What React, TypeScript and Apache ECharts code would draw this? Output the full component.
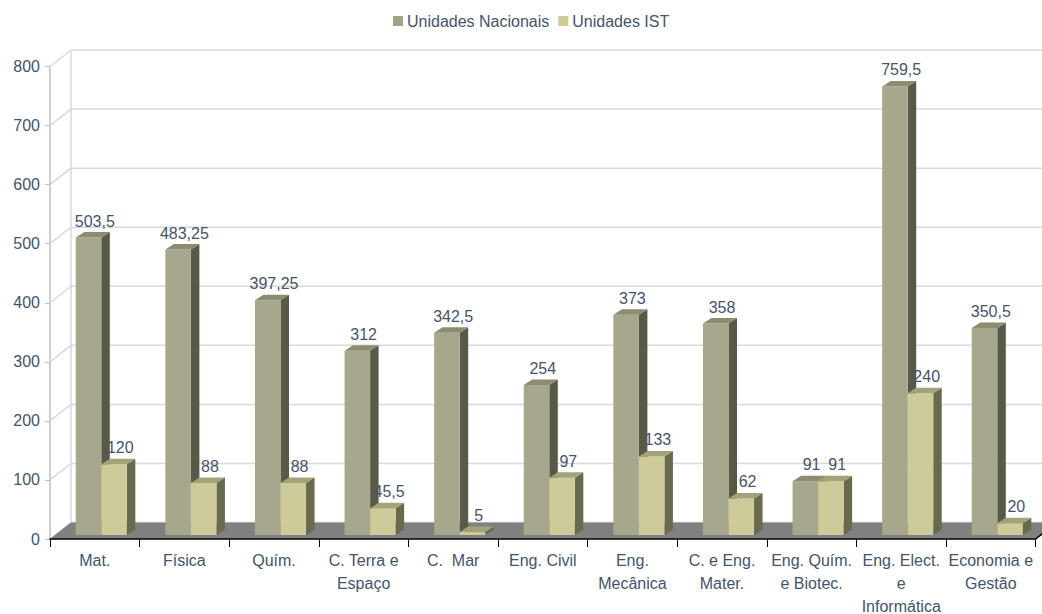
import React, { useEffect, useRef } from "react";
import * as echarts from "echarts";

// Course areas (x axis) and the two unit counts per area
const CATEGORIES = [
  "Mat.",
  "Física",
  "Quím.",
  "C. Terra e\nEspaço",
  "C.  Mar",
  "Eng. Civil",
  "Eng.\nMecânica",
  "C. e Eng.\nMater.",
  "Eng. Quím.\ne Biotec.",
  "Eng. Elect.\ne\nInformática",
  "Economia e\nGestão",
];
const NACIONAIS = [503.5, 483.25, 397.25, 312, 342.5, 254, 373, 358, 91, 759.5, 350.5];
const IST = [120, 88, 88, 45.5, 5, 97, 133, 62, 91, 240, 20];
const Y_TICKS = [0, 100, 200, 300, 400, 500, 600, 700, 800];
const SERIES_NAMES = ["Unidades Nacionais", "Unidades IST"];

const FONT = "'Liberation Sans', Arial, sans-serif";
const TEXT_COLOR = "#44546A";

// 3D look: offset of the back wall and of the bars' own depth
const WALL_DX = 21;
const WALL_DY = -16.5;
const BAR_SHIFT_X = 6.5;
const BAR_SHIFT_Y = -4;
const BAR_DX = 8.5;
const BAR_DY = -5.5;
const BAR_FRACTION = 0.285;

const PALETTES = [
  { front: "#A7A78D", side: "#595948", top: "#8C8C70", legend: "#A3A389" },
  { front: "#CDCB99", side: "#69694E", top: "#A3A37A", legend: "#CCCC99" },
];

const fmt = (v: number) => String(v).replace(".", ",");

function makeBarRenderer(seriesIdx: number) {
  const pal = PALETTES[seriesIdx];
  return (params: any, api: any) => {
    const i = api.value(0);
    const v = api.value(1);
    const base = api.coord([i, 0]);
    const top = api.coord([i, v]);
    const band = api.size([1, 0])[0];
    const w = band * BAR_FRACTION;
    const cx = base[0] + BAR_SHIFT_X;
    const left = seriesIdx === 0 ? cx - w : cx;
    const yTop = top[1] + BAR_SHIFT_Y;
    const yBase = base[1] + BAR_SHIFT_Y;
    return {
      type: "group",
      children: [
        {
          type: "polygon",
          shape: {
            points: [
              [left + w, yTop],
              [left + w + BAR_DX, yTop + BAR_DY],
              [left + w + BAR_DX, yBase + BAR_DY],
              [left + w, yBase],
            ],
          },
          style: { fill: pal.side },
        },
        {
          type: "rect",
          shape: { x: left, y: yTop, width: w, height: yBase - yTop },
          style: { fill: pal.front },
        },
        {
          type: "polygon",
          shape: {
            points: [
              [left, yTop],
              [left + w, yTop],
              [left + w + BAR_DX, yTop + BAR_DY],
              [left + BAR_DX, yTop + BAR_DY],
            ],
          },
          style: { fill: pal.top },
        },
        {
          type: "text",
          x: left + w / 2 + BAR_DX / 2 + 2,
          y: yTop + BAR_DY - 3,
          style: {
            text: fmt(v),
            fill: TEXT_COLOR,
            fontSize: 16,
            fontFamily: FONT,
            align: "center",
            verticalAlign: "bottom",
          },
        },
      ],
    };
  };
}

// Back wall gridlines, the depth diagonals and the floor slab
function renderFrame(params: any, api: any) {
  const cs = params.coordSys;
  const v = api.value(1);
  const y = api.coord([0, v])[1];
  const x0 = cs.x;
  const xBackL = x0 + WALL_DX;
  const xBackR = x0 + cs.width + WALL_DX;
  const lineStyle = { stroke: "#D9D9D9", lineWidth: 1.5 };
  const children: any[] = [
    {
      type: "line",
      shape: { x1: x0, y1: y, x2: xBackL, y2: y + WALL_DY },
      style: lineStyle,
    },
    {
      type: "line",
      shape: { x1: xBackL, y1: y + WALL_DY, x2: xBackR, y2: y + WALL_DY },
      style: lineStyle,
    },
  ];
  if (v === Y_TICKS[0]) {
    const yMax = api.coord([0, Y_TICKS[Y_TICKS.length - 1]])[1];
    children.push({
      type: "line",
      shape: { x1: xBackL, y1: y + WALL_DY, x2: xBackL, y2: yMax + WALL_DY },
      style: lineStyle,
    });
    children.push({
      type: "polygon",
      shape: {
        points: [
          [x0, y],
          [x0 + cs.width, y],
          [xBackR, y + WALL_DY],
          [xBackL, y + WALL_DY],
        ],
      },
      style: { fill: "#808080" },
    });
    children.push({
      type: "line",
      shape: { x1: x0 + cs.width, y1: y, x2: xBackR, y2: y + WALL_DY },
      style: { stroke: "#000000", lineWidth: 1.5 },
    });
  }
  return { type: "group", children };
}

export default function App() {
  const ref = useRef<HTMLDivElement>(null);

  useEffect(() => {
    if (!ref.current) return;
    const chart = echarts.init(ref.current, null, { renderer: "svg" });
    chart.setOption({
      animation: false,
      backgroundColor: "#ffffff",
      textStyle: { fontFamily: FONT },
      legend: {
        data: SERIES_NAMES,
        left: 393,
        top: 13,
        padding: 0,
        itemWidth: 10,
        itemHeight: 10,
        itemGap: 9,
        icon: "rect",
        textStyle: { color: TEXT_COLOR, fontSize: 16, fontFamily: FONT, padding: [0, 0, 0, -1] },
      },
      grid: {
        left: 50,
        right: 6.4,
        top: 66.5,
        bottom: 75,
        containLabel: false,
        outerBoundsMode: "none",
      },
      xAxis: {
        type: "category",
        data: CATEGORIES,
        z: 10,
        axisLine: { lineStyle: { color: "#000000", width: 1.5 } },
        axisTick: { show: true, length: 8, lineStyle: { color: "#000000" } },
        axisLabel: {
          color: TEXT_COLOR,
          fontSize: 16,
          fontFamily: FONT,
          lineHeight: 23,
          margin: 10,
          interval: 0,
        },
        splitLine: { show: false },
      },
      yAxis: {
        type: "value",
        min: 0,
        max: 800,
        interval: 100,
        axisLine: { show: true, lineStyle: { color: "#BFBFBF", width: 1.5 } },
        axisTick: { show: true, length: 5, lineStyle: { color: "#BFBFBF" } },
        axisLabel: { color: TEXT_COLOR, fontSize: 16, fontFamily: FONT, margin: 10 },
        splitLine: { show: false },
      },
      series: [
        {
          type: "custom",
          name: "frame",
          z: 1,
          silent: true,
          renderItem: renderFrame,
          encode: { x: 0, y: 1 },
          data: Y_TICKS.map((t) => [0, t]),
        },
        {
          type: "custom",
          name: SERIES_NAMES[0],
          z: 2,
          itemStyle: { color: PALETTES[0].legend },
          renderItem: makeBarRenderer(0),
          encode: { x: 0, y: 1 },
          data: NACIONAIS.map((v, i) => [i, v]),
        },
        {
          type: "custom",
          name: SERIES_NAMES[1],
          z: 3,
          itemStyle: { color: PALETTES[1].legend },
          renderItem: makeBarRenderer(1),
          encode: { x: 0, y: 1 },
          data: IST.map((v, i) => [i, v]),
        },
      ],
    });
    return () => chart.dispose();
  }, []);

  return (
    <div
      ref={ref}
      style={{ position: "fixed", left: 0, top: 0, width: 1042, height: 614, background: "#fff" }}
    />
  );
}
